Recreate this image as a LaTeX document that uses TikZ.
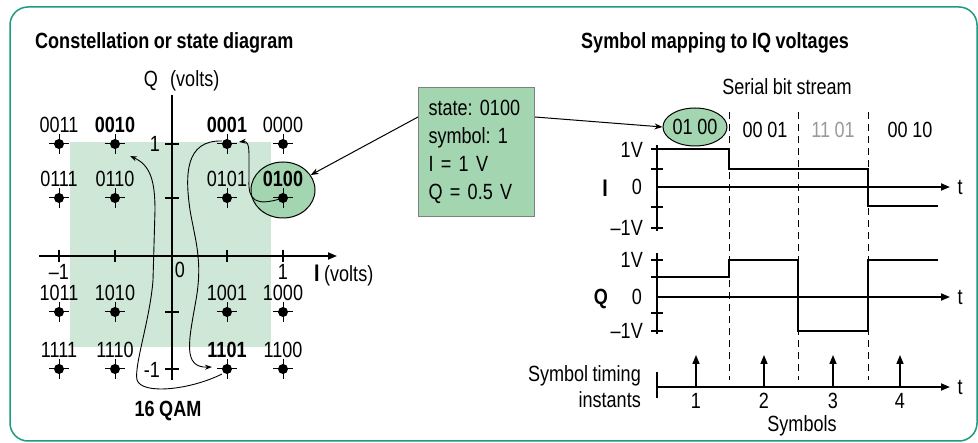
\documentclass[tikz,border=0pt]{standalone}
\usepackage{fontspec}
\setmainfont[FakeStretch=0.82,WordSpace=0.9]{Liberation Sans}
\usetikzlibrary{arrows.meta,calc,shapes.geometric}
\definecolor{frame}{HTML}{1E9A80}
\definecolor{boxg}{HTML}{A3D5B1}
\definecolor{lightg}{HTML}{CFE7D6}
\definecolor{graytxt}{HTML}{9A9A9A}
\newcommand{\fs}{\fontsize{22}{26}\selectfont\frenchspacing}
\tikzset{
  lbl/.style={inner sep=0pt},
  axis/.style={line width=1.8pt},
  sig/.style={line width=2.4pt},
  tickl/.style={line width=1.5pt},
  curv/.style={line width=0.9pt, -{Stealth[length=7pt,width=5pt]}},
  tip/.style={-{Triangle[length=9pt,width=7pt]}},
  dashsep/.style={dash pattern=on 7pt off 5pt, line width=1pt},
  ptm/.style={circle, fill=black, inner sep=0pt, minimum size=10pt},
  greenbox/.style={draw=gray, line width=1pt, fill=boxg, inner xsep=10pt, align=left, text width=96pt, minimum height=129pt, anchor=north west, font=\fontsize{22}{28}\selectfont\frenchspacing},
}
\begin{document}
\begin{tikzpicture}[x=1pt,y=-1pt,font=\fs]
\useasboundingbox (0,0) rectangle (978,443);
% frame
\draw[frame, line width=1.5pt, rounded corners=18pt] (10,7) rectangle (977,441);
% titles
\node[lbl, anchor=west, font=\fs\bfseries] (t1) at (35,43) {Constellation or state diagram};
\node[lbl, font=\fs\bfseries] (t2) at (715,43) {Symbol mapping to IQ voltages};
% light green area
\fill[lightg] (70,142) rectangle (271,347);
% ellipse around 0100
\node[ellipse, draw=black, line width=1pt, fill=boxg, minimum width=64pt, minimum height=56pt] (ell1) at (283,190) {};
% axes
\draw[axis] (172,95) -- (172,380);
\draw[axis, tip] (39,256) -- (337,256);
\foreach \x in {59,115,227,283} \draw[tickl] (\x,250) -- (\x,262);
\foreach \y in {144,198,312,369} \draw[tickl] (165,\y) -- (179,\y);
\node[lbl] (qv) at (151,81) {Q};
\node[lbl, anchor=west] (qv2) at (170,81) {(volts)};
\node[lbl, anchor=west] (iv) at (314,276) {\textbf{\fontsize{24}{26}\selectfont I} (volts)};
\node[lbl] (xm1) at (59,272) {–1};
\node[lbl] (xp1) at (283,272) {1};
\node[lbl] (x0) at (180,270) {0};
\node[lbl] (yp1) at (155,144) {1};
\node[lbl] (ym1) at (152,370) {-1};
% points
\foreach \lab/\x/\y/\b in {0011/59/144/0,0010/115/144/1,0001/227/144/1,0000/283/144/0,
  0111/59/198/0,0110/115/198/0,0101/227/198/0,0100/283/198/1,
  1011/59/312/0,1010/115/312/0,1001/227/312/0,1000/283/312/0,
  1111/59/369/0,1110/115/369/0,1101/227/369/1,1100/283/369/0}{
  \node[ptm] (p\lab) at (\x,\y) {};
  \draw[line width=1pt] ($(p\lab)+(-10,0)$) -- ($(p\lab)+(10,0)$);
  \draw[line width=1pt] ($(p\lab)+(0,-10)$) -- ($(p\lab)+(0,10)$);
  \ifnum\b=1
    \node[lbl, font=\fs\bfseries] (l\lab) at (\x,\y-19) {\lab};
  \else
    \node[lbl] (l\lab) at (\x,\y-19) {\lab};
  \fi
}
\node[lbl, font=\fs\bfseries] (qam) at (168,411) {16 QAM};
% curves
\draw[curv] (p0100.center) .. controls (255,207) and (248,200) .. (249,180) -- (249,155) .. controls (249,144) and (247,141) .. (239,142);
\draw[curv] (222,141) .. controls (185,140) and (185,175) .. (190,210) .. controls (195,240) and (203,260) .. (196,300) .. controls (189,340) and (182,368) .. (212,367);
\draw[curv] (222,374) .. controls (190,390) and (142,395) .. (137,380) .. controls (134,365) and (150,320) .. (153,280) -- (155,210) .. controls (155,180) and (150,165) .. (130,156);
% state box
\node[greenbox] (stbox) at (418,87) {state: 0100\\symbol: 1\\I = 1 V\\Q = 0.5 V};
\draw[line width=1pt, -{Stealth[length=8pt,width=6pt]}] ($(stbox.north west)+(0,30)$) -- (ell1);
% serial bit stream
\node[lbl] (sbs) at (787,87) {Serial bit stream};
\node[ellipse, draw=black, line width=1pt, fill=boxg, minimum width=64pt, minimum height=38pt, inner sep=0pt] (ell2) at (695,127) {01 00};
\draw[line width=1pt, -{Stealth[length=8pt,width=6pt]}] ($(stbox.north east)+(0,30)$) -- (ell2.west);
\node[lbl] (b2) at (765,130) {00 01};
\node[lbl, text=graytxt] (b3) at (833,130) {11 01};
\node[lbl] (b4) at (910,130) {00 10};
% dashed separators
\foreach \x in {729,798,868} \draw[dashsep] (\x,112) -- (\x,380);
% I chart
\draw[axis] (657,145) -- (657,231);
\foreach \y in {149,169,207,228} \draw[tickl] (651,\y) -- (663,\y);
\draw[axis, tip] (657,187) -- (950,187);
\draw[sig] (657,149) -- (729,149) -- (729,169) -- (868,169) -- (868,206) -- (938,206);
\node[lbl, anchor=east] (i1v) at (643,150) {1V};
\node[lbl] (i0) at (637,187) {0};
\node[lbl, anchor=east] (im1v) at (643,228) {–1V};
\node[lbl, font=\fontsize{24}{26}\selectfont\bfseries] (ilab) at (605,188) {I};
\node[lbl] (it) at (960,187) {t};
% Q chart
\draw[axis] (657,253) -- (657,334);
\foreach \y in {260,277,313,331} \draw[tickl] (651,\y) -- (663,\y);
\draw[axis, tip] (657,297) -- (950,297);
\draw[sig] (657,277) -- (729,277) -- (729,260) -- (798,260) -- (798,331) -- (868,331) -- (868,260) -- (938,260);
\node[lbl, anchor=east] (q1v) at (643,260) {1V};
\node[lbl] (q0) at (637,297) {0};
\node[lbl, anchor=east] (qm1v) at (643,331) {–1V};
\node[lbl, font=\fs\bfseries] (qlab) at (601,299) {Q};
\node[lbl] (qt) at (960,297) {t};
% timing
\draw[axis, tip] (657,387) -- (950,387);
\draw[tickl] (657,372) -- (657,398);
\foreach \x/\n in {696/1,764/2,833/3,900/4}{
  \coordinate (s\n) at (\x,387);
  \draw[line width=1.5pt, tip] (s\n) -- ++(0,-32);
  \node[lbl] (sn\n) at (\x,401) {\n};
}
\node[lbl] (tt) at (960,387) {t};
\node[lbl] (syms) at (802,426) {Symbols};
\node[lbl, anchor=east] (st1) at (641,376) {Symbol timing};
\node[lbl, anchor=east] (st2) at (641,400) {instants};
\end{tikzpicture}
\end{document}
